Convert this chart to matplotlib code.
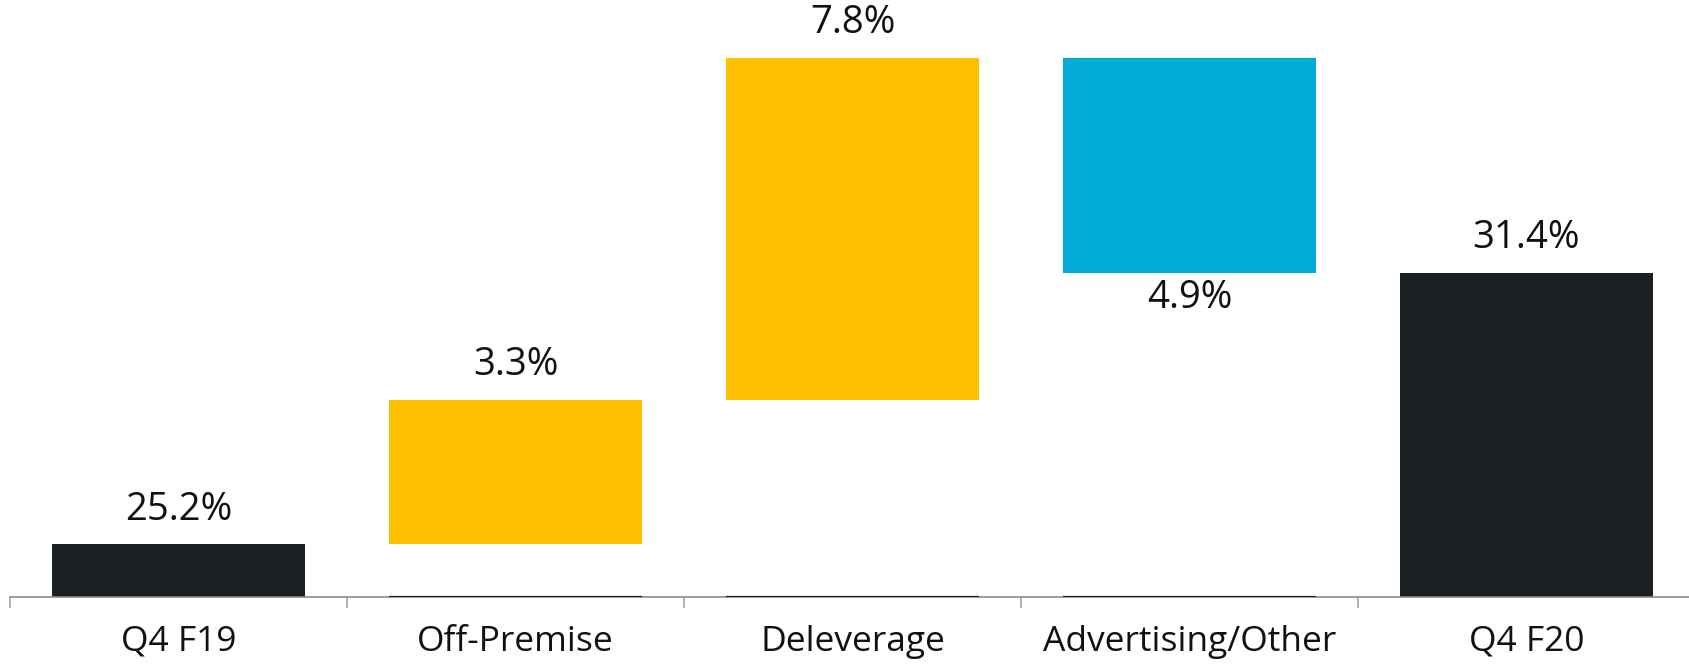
import matplotlib
matplotlib.use("Agg")
import matplotlib.pyplot as plt
import numpy as np

plt.rcParams["font.family"] = ["Open Sans", "DejaVu Sans"]

categories = ["Q4 F19", "Off-Premise", "Deleverage", "Advertising/Other", "Q4 F20"]
values = [25.2, 3.3, 7.8, -4.9, 31.4]
is_total = [True, False, False, False, True]
value_labels = ["25.2%", "3.3%", "7.8%", "4.9%", "31.4%"]
axis_floor = 24.0

DARK = "#1b2023"
YELLOW = "#ffc000"
CYAN = "#00abd6"

fig = plt.figure(figsize=(16.9, 6.65), dpi=100)
W, H = 1690, 665
# axes spans 5 slots of 337 px starting at x=10, baseline at y=597
ax = fig.add_axes([10 / W, (H - 597) / H, 1685 / W, 597 / H])

x = np.arange(len(categories))
running = 0.0
bottoms, heights, colors = [], [], []
for v, tot in zip(values, is_total):
    if tot:
        bottoms.append(axis_floor)
        heights.append(v - axis_floor)
        colors.append(DARK)
        running = v
    else:
        bottoms.append(running if v > 0 else running + v)
        heights.append(abs(v))
        colors.append(YELLOW if v > 0 else CYAN)
        running += v

width = 0.75
ax.bar(x, heights, bottom=bottoms, width=width, color=colors, edgecolor="none", zorder=2)

# thin dark line where the invisible base of floating bars meets the axis
for xi, tot in zip(x, is_total):
    if not tot:
        ax.hlines(axis_floor, xi - width / 2, xi + width / 2, color=DARK, linewidth=1.6, zorder=3)

for xi, b, h, v, lab in zip(x, bottoms, heights, values, value_labels):
    if v >= 0:
        ax.annotate(lab, (xi, b + h), xytext=(0, 11), textcoords="offset points",
                    ha="center", va="bottom", fontsize=27.5, color="#111111")
    else:
        ax.annotate(lab, (xi, b), xytext=(0, -5), textcoords="offset points",
                    ha="center", va="top", fontsize=27.5, color="#111111")

ax.set_xlim(-0.5, len(categories) - 0.5)
ax.set_ylim(axis_floor, axis_floor + 597 / 43.85)

for side in ["top", "right", "left"]:
    ax.spines[side].set_visible(False)
ax.spines["bottom"].set_color("#8c8c8c")
ax.spines["bottom"].set_linewidth(1.2)
ax.set_yticks([])
ax.set_xticks(x)
ax.set_xticklabels(categories, fontsize=25.5, color="#111111")
ax.tick_params(axis="x", which="major", length=0, pad=20)
ax.set_xticks(np.arange(-0.5, len(categories), 1.0), minor=True)
ax.tick_params(axis="x", which="minor", length=8, width=1.2, color="#a6a6a6", direction="out")

fig.savefig("out.png", dpi=100)
